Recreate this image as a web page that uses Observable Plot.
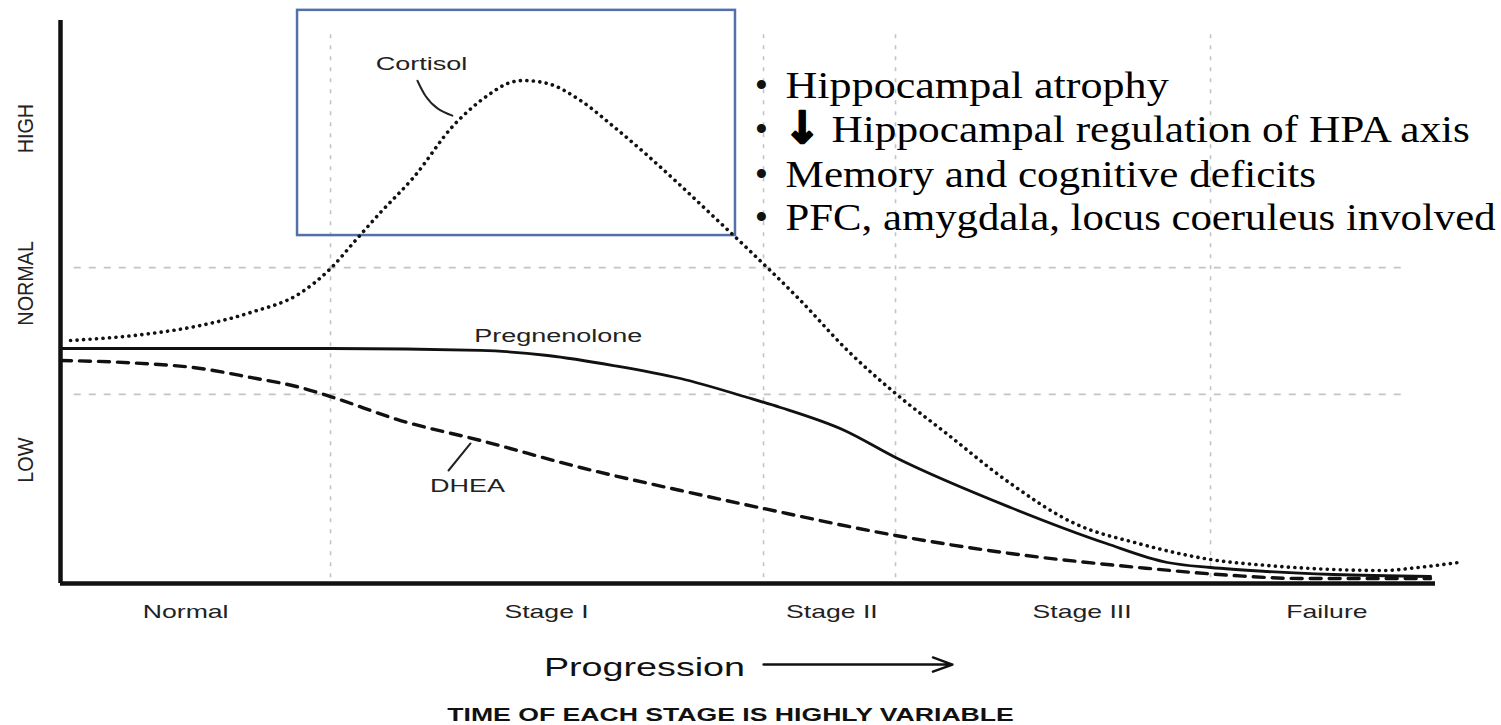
<!DOCTYPE html>
<html>
<head>
<meta charset="utf-8">
<script src="https://cdn.jsdelivr.net/npm/d3@7"></script>
<script src="https://cdn.jsdelivr.net/npm/@observablehq/plot@0.6"></script>
<style>
  html, body { margin: 0; padding: 0; background: #fff; }
  #chart { width: 1501px; height: 725px; }
</style>
</head>
<body>
<div id="chart"></div>
<script>
// ---------- data (progression 0–100, level 0–100) ----------
const stages     = ["Normal", "Stage I", "Stage II", "Stage III", "Failure"];
const stagePos   = [9.1, 35.35, 56.1, 74.3, 92.1];
const stageGrid  = [19.64, 51.13, 60.73, 83.64];

const levels     = ["HIGH", "NORMAL", "LOW"];
const levelPos   = [76.4, 45.8, 17.9];
const normalBand = [56.1, 33.6];

const cortisolX = [0.73, 6.55, 10.18, 13.82, 17.45, 19.64, 21.45, 23.27, 25.67, 28.58, 31.27, 32.51, 33.67, 35.42, 37.82, 40.22, 42.69, 45.09, 47.49, 49.96, 53.82, 57.24, 60.73, 64.44, 69.09, 73.75, 78.4, 83.64, 87.78, 92.58, 96.22, 98.69, 101.67];
const cortisolY = [43.16, 44.4, 45.83, 48.13, 51.6, 55.95, 60.92, 65.9, 72.11, 81.35, 87.03, 88.81, 89.34, 88.81, 85.79, 81.17, 76.03, 70.7, 65.19, 59.5, 50.27, 41.39, 33.75, 26.64, 17.76, 10.66, 7.1, 4.26, 3.2, 2.49, 2.31, 2.84, 3.73];

const pregX = [0, 10.18, 19.64, 30.55, 35.42, 40.22, 45.09, 49.96, 52.36, 57.02, 60.73, 69.09, 76.07, 80.51, 83.64, 87.78, 92.58, 99.64];
const pregY = [41.74, 41.74, 41.74, 41.39, 40.5, 38.72, 36.41, 33.04, 31.26, 27.18, 22.38, 13.5, 7.1, 3.73, 2.84, 2.13, 1.6, 1.24];

const dheaX = [0, 5.1, 10.18, 13.82, 17.45, 19.64, 24.73, 30.55, 37.82, 45.09, 51.13, 60.73, 69.09, 78.4, 85.31, 90.18, 99.64];
const dheaY = [39.61, 39.2, 38.19, 36.6, 34.81, 33.2, 28.95, 25.4, 20.6, 16.52, 13.32, 8.53, 5.33, 2.84, 1.42, 0.89, 0.89];

const seriesNames = ["Cortisol", "Pregnenolone", "DHEA"];

const bullets = [
  "Hippocampal atrophy",
  "Hippocampal regulation of HPA axis",
  "Memory and cognitive deficits",
  "PFC, amygdala, locus coeruleus involved"
];
const xTitle = "Progression";
const note = "TIME OF EACH STAGE IS HIGHLY VARIABLE";

// ---------- tables built from the arrays ----------
const cortisol = cortisolX.map((x, i) => ({x, y: cortisolY[i]}));
const preg = pregX.map((x, i) => ({x, y: pregY[i]}));
const dhea = dheaX.map((x, i) => ({x, y: dheaY[i]}));
const stageTable = stages.map((s, i) => ({s, x: stagePos[i]}));
const levelTable = levels.map((s, i) => ({s, y: levelPos[i]}));

// annotation anchors (data units)
const labelTable = [
  {t: seriesNames[0], x: 26.25, y: 92.2},
  {t: seriesNames[1], x: 36.2, y: 44.0},
  {t: seriesNames[2], x: 29.6, y: 17.2}
];
const cortisolLeader = [{x: 25.96, y: 89.3}, {x: 26.55, y: 86.6}, {x: 27.42, y: 84.4}, {x: 28.5, y: 83.1}];
const dheaLeader = [{x: 29.82, y: 24.87}, {x: 28.22, y: 20.07}];
const bulletY = [91.1, 83.3, 75.3, 67.5];
const bulletTable = bullets.map((t, i) => ({t, y: bulletY[i], x: i === 1 ? 56.07 : 52.73}));

const ink = "#111";
const grid = "#c4c4c4";

const plot = Plot.plot({
  width: 1501,
  height: 725,
  marginLeft: 60,
  marginRight: 66,
  marginTop: 20,
  marginBottom: 142,
  x: {domain: [0, 100], axis: null},
  y: {domain: [0, 100], axis: null},
  style: {fontFamily: "Liberation Sans, Arial, sans-serif", background: "#fff"},
  marks: [
    // grid
    Plot.ruleX(stageGrid, {y1: 1, y2: 98, stroke: grid, strokeWidth: 1.6, strokeDasharray: "4,7"}),
    Plot.ruleY(normalBand, {x1: 1, x2: 98, stroke: grid, strokeWidth: 1.8, strokeDasharray: "7,8"}),
    // highlight box
    Plot.rect([{x1: 17.24, x2: 49.09, y1: 61.8, y2: 101.8}], {x1: "x1", x2: "x2", y1: "y1", y2: "y2", fill: "none", stroke: "#5470a8", strokeWidth: 2.5}),
    // curves
    Plot.line(preg, {x: "x", y: "y", curve: "monotone-x", stroke: ink, strokeWidth: 2.8}),
    Plot.line(dhea, {x: "x", y: "y", curve: "monotone-x", stroke: ink, strokeWidth: 3.4, strokeDasharray: "11,8"}),
    Plot.line(cortisol, {x: "x", y: "y", curve: "monotone-x", stroke: ink, strokeWidth: 3.6, strokeDasharray: "0.1,6.4", strokeLinecap: "round"}),
    // leaders
    Plot.line(cortisolLeader, {x: "x", y: "y", curve: "natural", stroke: "#222", strokeWidth: 2}),
    Plot.line(dheaLeader, {x: "x", y: "y", stroke: "#222", strokeWidth: 2}),
    // axes lines
    Plot.ruleY([0], {x1: 0, x2: 100, stroke: ink, strokeWidth: 4.5}),
    Plot.ruleX([0], {y1: 0, y2: 100, stroke: ink, strokeWidth: 4.5}),
    // series labels
    Plot.text(labelTable, {x: "x", y: "y", text: "t", fontSize: 18, fill: "#222", lineAnchor: "middle"}),
    // stage labels
    Plot.text(stageTable, {x: "x", text: "s", frameAnchor: "bottom", dy: 28, fontSize: 19, fill: "#222", lineAnchor: "middle"}),
    // level labels
    Plot.text(levelTable, {y: "y", text: "s", frameAnchor: "left", dx: -35, rotate: -90, fontSize: 22, fill: "#222", lineAnchor: "middle"}),
    // progression title & arrow
    Plot.text([xTitle], {x: 42.47, y: -15.0, text: d => d, fontSize: 26, fill: "#111", lineAnchor: "middle"}),
    Plot.arrow([{x1: 51.13, x2: 64.87, y: -14.4}], {x1: "x1", x2: "x2", y1: "y", y2: "y", stroke: "#111", strokeWidth: 2.4, headLength: 13, headAngle: 40}),
    Plot.text([note], {x: 48.73, y: -23.4, text: d => d, fontSize: 19, fontWeight: "bold", fill: "#111", lineAnchor: "middle"}),
    // bullets
    Plot.text(bulletTable, {x: 50.98, y: "y", text: () => "\u2022", fontFamily: "Liberation Serif", fontSize: 38, fill: "#111", lineAnchor: "top", textAnchor: "middle"}),
    Plot.text(bulletTable, {x: "x", y: "y", text: "t", fontFamily: "Liberation Serif", fontSize: 38, fill: "#000", lineAnchor: "top", textAnchor: "start"}),
    Plot.text([bulletTable[1]], {x: 52.6, y: "y", dy: -3, text: () => "\u2193", fontFamily: "DejaVu Sans", fontWeight: "bold", fontSize: 44, fill: "#000", stroke: "#000", strokeWidth: 2.2, lineAnchor: "top", textAnchor: "start"})
  ]
});

document.getElementById("chart").appendChild(plot);

// horizontal stretch of the labels, as in the original artwork
const bulletStretch = [1.16, 1.14, 1.135, 1.125];
const stretch = new Map([
  ...stages.map(s => [s, 1.4]),
  ...seriesNames.map(s => [s, 1.5]),
  ...levels.map(s => [s, 0.9]),
  ...bullets.map((s, i) => [s, bulletStretch[i]]),
  [xTitle, 1.45],
  [note, 1.4]
]);
d3.select(plot).selectAll("text").each(function () {
  const f = stretch.get(this.textContent);
  if (f) {
    const w = this.getComputedTextLength();
    this.setAttribute("textLength", w * f);
    this.setAttribute("lengthAdjust", "spacingAndGlyphs");
  }
});
</script>
</body>
</html>
